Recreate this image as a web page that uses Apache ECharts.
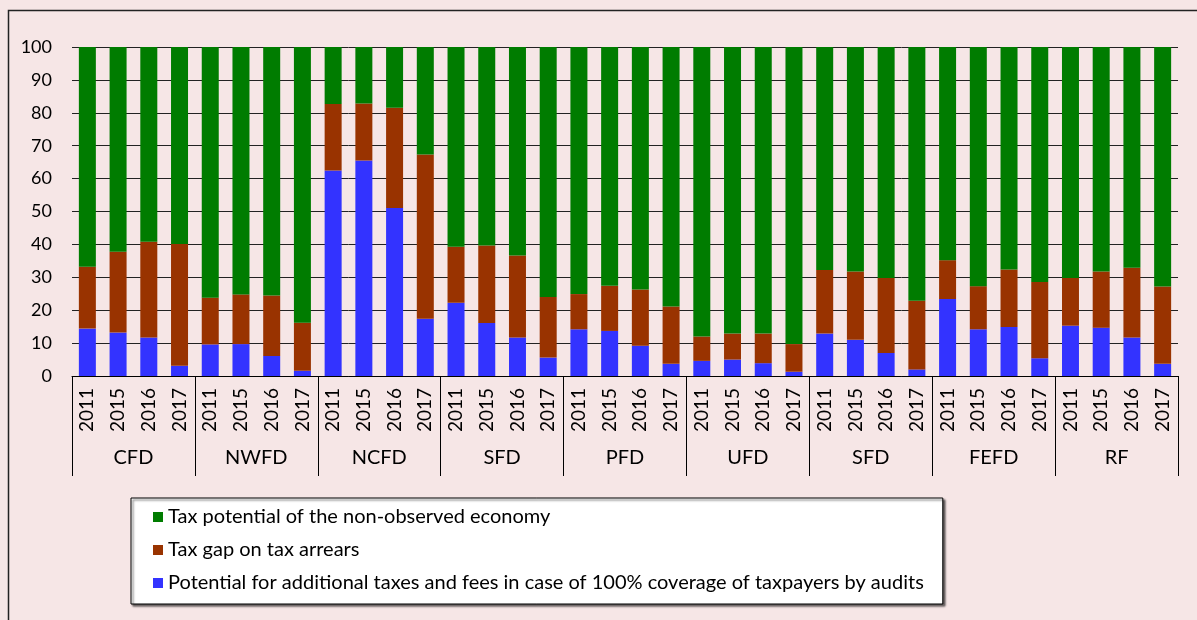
<!DOCTYPE html>
<html>
<head>
<meta charset="utf-8">
<script src="https://cdn.jsdelivr.net/npm/echarts@6/dist/echarts.min.js"></script>
<style>
  html, body { margin: 0; padding: 0; background: #f6e6e6; }
  #chart { width: 1197px; height: 620px; }
</style>
</head>
<body>
<div id="chart"></div>
<script>
// districts and years
const districts = ["CFD", "NWFD", "NCFD", "SFD", "PFD", "UFD", "SFD", "FEFD", "RF"];
const years = ["2011", "2015", "2016", "2017"];
const yTicks = [0, 10, 20, 30, 40, 50, 60, 70, 80, 90, 100];

// potential for additional taxes in case of 100% audit coverage (blue)
const auditPotential = [
  14.4, 13.2, 11.7, 3.1,
  9.6, 9.7, 6.1, 1.6,
  62.5, 65.5, 51.1, 17.4,
  22.3, 16.1, 11.7, 5.6,
  14.2, 13.7, 9.2, 3.7,
  4.6, 5.0, 3.9, 1.3,
  12.9, 11.0, 7.0, 2.0,
  23.4, 14.2, 14.9, 5.4,
  15.3, 14.7, 11.7, 3.7
];
// tax gap on tax arrears (brown)
const arrearsGap = [
  18.8, 24.6, 29.1, 37.0,
  14.2, 15.1, 18.4, 14.6,
  20.2, 17.3, 30.4, 49.9,
  17.0, 23.6, 24.9, 18.4,
  10.7, 13.7, 17.1, 17.4,
  7.4, 7.9, 9.0, 8.4,
  19.3, 20.8, 22.8, 20.9,
  11.8, 13.1, 17.5, 23.2,
  14.5, 17.1, 21.2, 23.5
];
// tax potential of the non-observed economy (green)
const nonObserved = [
  66.8, 62.2, 59.2, 59.9,
  76.2, 75.2, 75.5, 83.8,
  17.3, 17.2, 18.5, 32.7,
  60.7, 60.3, 63.4, 76.0,
  75.1, 72.6, 73.7, 78.9,
  88.0, 87.1, 87.1, 90.3,
  67.8, 68.2, 70.2, 77.1,
  64.8, 72.7, 67.6, 71.4,
  70.2, 68.2, 67.1, 72.8
];

const names = [
  "Tax potential of the non-observed economy",
  "Tax gap on tax arrears",
  "Potential for additional taxes and fees in case of 100% coverage of taxpayers by audits"
];

let yearCats = [];
districts.forEach(() => years.forEach(y => yearCats.push(y)));

const font = "Lato, 'Open Sans', sans-serif";

let chart = echarts.init(document.getElementById("chart"));
let option = {
  backgroundColor: "#f6e6e6",
  animation: false,
  textStyle: { fontFamily: font, color: "#000" },
  graphic: [
    {
      type: "rect",
      z: -1,
      shape: { x: 8.5, y: 10.5, width: 1400, height: 900 },
      style: { fill: "none", stroke: "#222", lineWidth: 1.5 }
    }
  ],
  grid: { left: 72, right: 19, top: 47, bottom: 244 },
  legend: {
    data: names,
    orient: "vertical",
    left: 131,
    top: 498,
    padding: [9, 19, 11, 22],
    itemWidth: 10,
    itemHeight: 10,
    itemGap: 13,
    icon: "rect",
    backgroundColor: "#fff",
    borderColor: "#000",
    borderWidth: 1,
    shadowColor: "rgba(0,0,0,0.6)",
    shadowOffsetX: 2,
    shadowOffsetY: 2,
    shadowBlur: 2,
    textStyle: { fontFamily: font, fontSize: 20, color: "#000" }
  },
  xAxis: [
    {
      type: "category",
      data: yearCats,
      axisLine: { lineStyle: { color: "#000", width: 1 } },
      axisTick: { show: false },
      axisLabel: {
        interval: 0,
        rotate: 90,
        margin: 12,
        fontSize: 19,
        fontFamily: font,
        color: "#000"
      }
    },
    {
      type: "category",
      data: districts,
      position: "bottom",
      axisLine: { show: false },
      axisTick: { show: true, length: 100, interval: 0, lineStyle: { color: "#000" } },
      axisLabel: {
        interval: 0,
        margin: 72,
        fontSize: 20,
        fontFamily: font,
        color: "#000"
      }
    }
  ],
  yAxis: {
    type: "value",
    min: yTicks[0],
    max: yTicks[yTicks.length - 1],
    interval: 10,
    axisLine: { show: false },
    axisTick: { show: false },
    axisLabel: { margin: 20, fontSize: 18, fontFamily: font, color: "#000" },
    splitLine: { lineStyle: { color: "#222", width: 1 } }
  },
  series: [
    {
      name: names[2],
      type: "bar",
      stack: "total",
      barWidth: 17,
      data: auditPotential,
      itemStyle: { color: "#3333ff" }
    },
    {
      name: names[1],
      type: "bar",
      stack: "total",
      barWidth: 17,
      data: arrearsGap,
      itemStyle: { color: "#993300" }
    },
    {
      name: names[0],
      type: "bar",
      stack: "total",
      barWidth: 17,
      data: nonObserved,
      itemStyle: { color: "#007c00" }
    }
  ]
};
chart.setOption(option);
</script>
</body>
</html>
